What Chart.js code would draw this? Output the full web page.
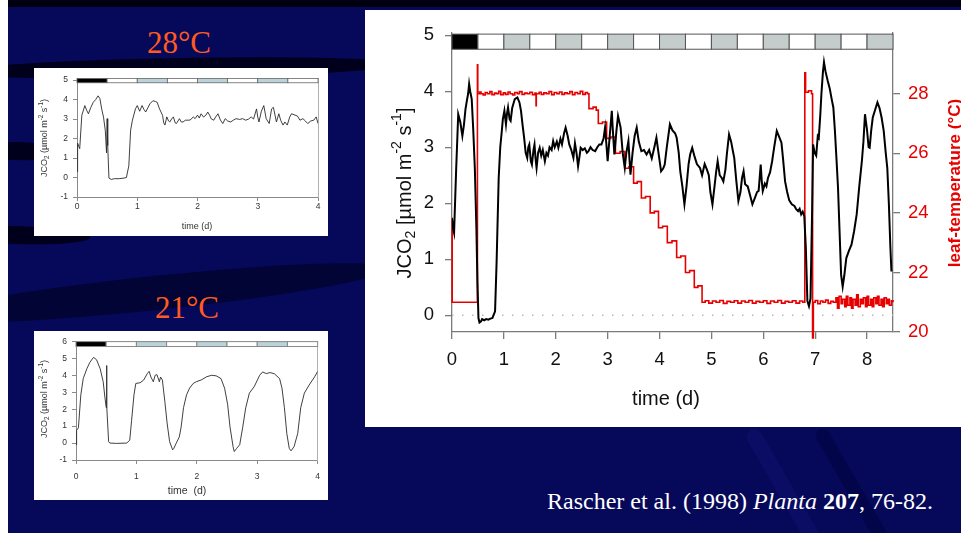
<!DOCTYPE html>
<html>
<head>
<meta charset="utf-8">
<script src="https://cdn.jsdelivr.net/npm/chart.js@4.4.1/dist/chart.umd.min.js"></script>
<style>
  html, body { margin: 0; padding: 0; }
  body {
    width: 961px; height: 533px; overflow: hidden; position: relative;
    background: #06085a;
    font-family: "Liberation Sans", Arial, sans-serif;
  }
  .streak { position: absolute; background: #00001c; border-radius: 50%; }
  .panel { position: absolute; background: #fff; }
  .panel canvas { display: block; }
  .temp {
    position: absolute; color: #ff5a1f; white-space: nowrap;
    font-family: "Liberation Serif", "Times New Roman", serif; font-size: 31px;
    transform: translate(-50%, -50%);
  }
  .cite {
    position: absolute; left: 547px; top: 488px; color: #fff; white-space: nowrap;
    font-family: "Liberation Serif", "Times New Roman", serif; font-size: 24px;
  }
</style>
</head>
<body>
<!-- slide decoration -->
<div style="position:absolute;left:0;top:0;width:961px;height:7px;background:#000010"></div>
<div class="streak" style="left:-40px;top:58px;width:440px;height:20px;transform:rotate(-1deg)"></div>
<div class="streak" style="left:-60px;top:142px;width:150px;height:18px;transform:rotate(2deg)"></div>
<div class="streak" style="left:-60px;top:226px;width:150px;height:18px;transform:rotate(2deg)"></div>
<div class="streak" style="left:-80px;top:276px;width:470px;height:34px;transform:rotate(-6deg);background:#020436"></div>
<div class="streak" style="left:780px;top:420px;width:16px;height:150px;transform:rotate(-30deg);background:#0a0d63;border-radius:8px"></div>
<div class="streak" style="left:850px;top:420px;width:14px;height:150px;transform:rotate(-30deg);background:#03054a;border-radius:7px"></div>
<div style="position:absolute;left:0;top:0;width:8px;height:533px;background:#fff"></div>

<div class="temp" style="left:179px;top:43px">28°C</div>
<div class="temp" style="left:187px;top:308px">21°C</div>

<div class="panel" style="left:34px;top:68px;width:294px;height:168px">
  <canvas id="chart28" width="294" height="168"></canvas>
</div>
<div class="panel" style="left:34px;top:331px;width:294px;height:169px">
  <canvas id="chart21" width="294" height="169"></canvas>
</div>
<div class="panel" style="left:365px;top:10px;width:596px;height:417px">
  <canvas id="bigChart" width="596" height="417"></canvas>
</div>

<div class="cite">Rascher et al. (1998) <i>Planta</i> <b>207</b>, 76-82.</div>

<script>
// ---- data: big chart (time in days) ----
const bigTime = [0, 0.02, 0.04, 0.08, 0.12, 0.16, 0.2, 0.23, 0.26, 0.29, 0.31, 0.33, 0.35, 0.38, 0.41, 0.44, 0.47, 0.49,
  0.51, 0.53, 0.56, 0.58, 0.62, 0.66, 0.7, 0.74, 0.78, 0.83, 0.86, 0.9, 0.93, 0.96, 0.98, 1.01, 1.04, 1.06, 1.08, 1.11,
  1.13, 1.16, 1.21, 1.26, 1.3, 1.33, 1.36, 1.39, 1.42, 1.45, 1.47, 1.49, 1.52, 1.54, 1.57, 1.59, 1.61, 1.63, 1.66, 1.69,
  1.72, 1.75, 1.79, 1.82, 1.85, 1.88, 1.92, 1.95, 1.98, 2.02, 2.05, 2.09, 2.12, 2.16, 2.19, 2.23, 2.26, 2.3, 2.34, 2.37,
  2.4, 2.43, 2.46, 2.48, 2.52, 2.56, 2.6, 2.63, 2.67, 2.71, 2.76, 2.8, 2.84, 2.88, 2.92, 2.95, 2.98, 3.0, 3.04, 3.08,
  3.1, 3.13, 3.17, 3.2, 3.25, 3.29, 3.33, 3.36, 3.4, 3.42, 3.44, 3.48, 3.52, 3.56, 3.6, 3.65, 3.7, 3.75, 3.8, 3.85, 3.9,
  3.94, 3.98, 4.03, 4.07, 4.1, 4.14, 4.2, 4.25, 4.3, 4.33, 4.37, 4.4, 4.44, 4.48, 4.52, 4.56, 4.59, 4.63, 4.67, 4.72,
  4.78, 4.82, 4.87, 4.91, 4.95, 4.98, 5.02, 5.06, 5.09, 5.12, 5.16, 5.2, 5.23, 5.27, 5.3, 5.34, 5.38, 5.41, 5.44, 5.48,
  5.52, 5.56, 5.59, 5.62, 5.65, 5.7, 5.74, 5.79, 5.84, 5.88, 5.91, 5.93, 5.95, 5.97, 5.99, 6.03, 6.06, 6.09, 6.13, 6.17,
  6.21, 6.26, 6.3, 6.35, 6.38, 6.42, 6.46, 6.5, 6.55, 6.6, 6.63, 6.67, 6.7, 6.73, 6.76, 6.79, 6.82, 6.85, 6.88, 6.91,
  6.94, 6.96, 6.99, 7.02, 7.05, 7.07, 7.1, 7.12, 7.15, 7.17, 7.2, 7.24, 7.28, 7.32, 7.35, 7.38, 7.41, 7.44, 7.47, 7.5,
  7.53, 7.56, 7.6, 7.65, 7.7, 7.75, 7.8, 7.85, 7.9, 7.93, 7.96, 8.0, 8.03, 8.05, 8.08, 8.11, 8.15, 8.2, 8.24, 8.28, 8.32,
  8.36, 8.39, 8.42, 8.45, 8.47];
const bigJco2 = [1.74, 1.55, 1.47, 2.6, 3.59, 3.45, 3.2, 3.4, 3.68, 3.85, 3.95, 4.13, 4.0, 3.86, 3.3, 2.63, 1.56, 0.6,
  -0.05, -0.13, -0.11, -0.07, -0.09, -0.07, -0.08, -0.06, -0.05, 0.07, 0.96, 2.45, 3.0, 3.29, 3.5, 3.65, 3.41, 3.6, 3.71, 3.5,
  3.47, 3.7, 3.86, 3.89, 3.8, 3.65, 3.4, 3.17, 2.9, 2.81, 3.0, 3.05, 2.75, 2.69, 2.95, 3.05, 2.8, 2.63, 2.9, 2.99,
  2.85, 2.95, 2.75, 2.9, 2.85, 3.0, 2.95, 3.11, 3.0, 3.1, 2.99, 3.15, 3.05, 3.25, 3.35, 3.2, 3.05, 2.95, 2.81, 3.07,
  2.9, 2.66, 2.85, 2.99, 2.95, 2.98, 2.9, 2.93, 3.0, 2.95, 2.93, 3.0, 3.05, 3.05, 3.15, 3.35, 3.0, 2.75, 3.2, 3.65,
  3.3, 2.87, 3.3, 3.56, 3.35, 2.9, 2.63, 2.9, 3.11, 2.8, 2.51, 2.9, 3.2, 3.35, 3.1, 2.93, 2.95, 2.87, 2.95, 2.8, 3.0,
  3.17, 2.9, 2.57, 2.62, 2.69, 3.0, 3.41, 3.3, 3.25, 3.17, 2.9, 2.57, 2.3, 1.98, 2.3, 2.7, 2.87, 2.99, 2.85, 2.7,
  2.63, 2.5, 2.7, 2.61, 2.5, 2.2, 1.98, 2.3, 2.55, 2.75, 2.5, 2.45, 2.39, 2.6, 2.9, 3.23, 3.1, 2.95, 2.81, 2.4,
  2.04, 2.2, 2.45, 2.57, 2.34, 2.3, 2.16, 1.98, 2.1, 2.2, 2.22, 2.45, 2.69, 2.4, 2.22, 2.35, 2.3, 2.45, 2.55, 2.75,
  3.0, 3.29, 3.2, 3.08, 2.8, 2.39, 2.2, 2.05, 1.98, 1.95, 1.9, 1.86, 1.9, 1.8, 1.85, 1.77, 1.2, 0.25, 0.16, 0.3,
  1.8, 3.05, 2.9, 2.85, 3.2, 3.17, 3.6, 3.95, 4.35, 4.52, 4.35, 4.19, 4.05, 3.85, 3.71, 3.3, 2.8, 2.28, 1.5, 0.72,
  0.51, 0.7, 1.02, 1.15, 1.26, 1.5, 1.8, 2.3, 2.75, 3.1, 3.59, 3.3, 3.0, 2.99, 3.3, 3.53, 3.65, 3.8, 3.7, 3.53, 3.3,
  2.9, 2.63, 2.0, 1.2, 0.78];

// leaf temperature (°C); each value is held from its time point until the next one
const tempTime = [0, 0.004, 0.49, 0.497, 0.53, 0.56, 0.6, 0.64, 0.68, 0.73, 0.77, 0.82, 0.86, 0.9, 0.94, 0.99, 1.03,
  1.08, 1.12, 1.17, 1.21, 1.26, 1.3, 1.35, 1.4, 1.45, 1.5, 1.55, 1.6, 1.62, 1.625, 1.68, 1.72, 1.77, 1.82, 1.87, 1.92,
  1.97, 2.02, 2.07, 2.12, 2.17, 2.22, 2.27, 2.32, 2.37, 2.42, 2.47, 2.52, 2.57, 2.61,
  2.64, 2.72, 2.78, 2.82, 2.9, 2.98, 3.06, 3.15, 3.24, 3.33, 3.41, 3.5, 3.57, 3.65, 3.73, 3.82, 3.9, 3.98, 4.06,
  4.15, 4.24, 4.33, 4.41, 4.5, 4.58, 4.67, 4.74, 4.82,
  4.88, 4.95, 5.02, 5.09, 5.16, 5.23, 5.3, 5.37, 5.44, 5.51, 5.58, 5.65, 5.72, 5.79, 5.86, 5.93, 6.0, 6.07, 6.14, 6.21,
  6.28, 6.35, 6.42, 6.49, 6.56, 6.63, 6.7, 6.76, 6.8, 6.815, 6.87, 6.93, 6.95, 6.965,
  7.0, 7.05, 7.1, 7.15, 7.2, 7.25, 7.3, 7.35, 7.4, 7.43, 7.46, 7.5, 7.53, 7.57, 7.6, 7.63, 7.67, 7.7, 7.73, 7.77, 7.8,
  7.83, 7.87, 7.9, 7.93, 7.97, 8.0, 8.03, 8.07, 8.1, 8.13, 8.17, 8.2, 8.23, 8.27, 8.3, 8.33, 8.37, 8.4, 8.43, 8.47, 8.5];
const tempVal = [23.8, 21.0, 28.97, 28.0, 28.06, 28.0, 27.96, 28.04, 28.0, 28.07, 27.97, 28.02, 28.0, 28.08, 27.97, 28.03, 27.98,
  28.06, 28.0, 27.96, 28.04, 28.0, 28.07, 27.98, 28.02, 28.0, 28.05, 27.97, 28.02, 27.6, 28.0, 28.05, 27.98, 28.03, 28.0, 28.07, 27.97,
  28.04, 28.0, 28.06, 27.98, 28.03, 28.0, 28.07, 27.97, 28.04, 28.0, 28.08, 27.98, 28.04, 28.0,
  27.5, 27.55, 27.45, 27.0, 27.05, 26.5, 26.55, 26.0, 26.06, 25.5, 25.55, 25.0, 25.05, 24.5, 24.55, 24.0, 24.05, 23.5, 23.55,
  23.0, 23.06, 22.5, 22.55, 22.0, 22.06, 21.5, 21.55, 21.0,
  21.05, 20.97, 21.04, 21.0, 21.06, 20.96, 21.03, 21.0, 21.05, 20.97, 21.04, 21.0, 21.06, 20.97, 21.03, 21.0, 21.05, 20.96, 21.04, 21.0,
  21.06, 20.97, 21.03, 21.0, 21.05, 20.97, 21.04, 21.0, 28.7, 28.05, 28.1, 28.0, 19.8, 21.0,
  21.06, 20.95, 21.04, 21.0, 21.07, 20.96, 21.03, 21.0, 21.15, 20.8, 21.2, 20.95, 21.1, 20.85, 21.2, 20.9, 21.15, 20.8, 21.1, 20.9, 21.25,
  20.85, 21.1, 20.95, 21.15, 20.85, 21.2, 20.9, 21.1, 20.85, 21.15, 20.95, 21.2, 20.9, 21.1, 20.85, 21.15, 20.95, 21.1, 20.9, 21.05, 21.0];

const bigXTicks = [0, 1, 2, 3, 4, 5, 6, 7, 8];
const bigYTicks = [0, 1, 2, 3, 4, 5];
const tempTicks = [20, 22, 24, 26, 28];

// light regime strip: half-day segments (k = dark, w = white, g = grey)
const bigStripStart = [0, 0.5, 1, 1.5, 2, 2.5, 3, 3.5, 4, 4.5, 5, 5.5, 6, 6.5, 7, 7.5, 8];
const bigStripKind = ['k', 'w', 'g', 'w', 'g', 'w', 'g', 'w', 'g', 'w', 'g', 'w', 'g', 'w', 'g', 'w', 'g'];

// ---- data: small charts ----
const time28 = [0, 0.01, 0.045, 0.08, 0.13, 0.16, 0.19, 0.23, 0.27, 0.31, 0.35, 0.38, 0.41, 0.44, 0.47, 0.49, 0.5, 0.51,
  0.53, 0.57, 0.62, 0.7, 0.78, 0.82, 0.86, 0.89, 0.92, 0.97, 1.0, 1.04, 1.08, 1.11, 1.14, 1.18, 1.21, 1.26, 1.3, 1.33,
  1.37, 1.42, 1.44, 1.46, 1.49, 1.52, 1.54, 1.57, 1.6, 1.63, 1.65, 1.7, 1.73, 1.76, 1.8, 1.84, 1.88, 1.93, 1.96, 2.0,
  2.03, 2.06, 2.1, 2.14, 2.17, 2.2, 2.23, 2.27, 2.3, 2.34, 2.38, 2.42, 2.46, 2.5, 2.55, 2.6, 2.64, 2.7, 2.75, 2.8, 2.85,
  2.89, 2.93, 2.98, 3.0, 3.02, 3.06, 3.1, 3.14, 3.19, 3.23, 3.26, 3.31, 3.35, 3.38, 3.42, 3.45, 3.49, 3.53, 3.56, 3.62,
  3.66, 3.7, 3.75, 3.79, 3.83, 3.88, 3.93, 3.97, 4.0];
const jco2At28 = [0.3, 1.76, 1.48, 3.19, 3.69, 3.45, 3.27, 3.6, 3.86, 4.0, 4.19, 4.05, 3.51, 3.1, 2.4, 1.26, 3.02, 1.64,
  -0.03, -0.1, -0.06, -0.06, -0.03, 0.0, 0.6, 2.43, 2.94, 3.52, 3.69, 3.4, 3.69, 3.5, 3.36, 3.6, 3.78, 3.94, 3.9, 3.86,
  3.52, 3.19, 2.8, 2.69, 3.11, 2.9, 2.85, 3.0, 3.11, 2.8, 2.77, 3.02, 2.85, 2.85, 2.94, 2.94, 2.95, 3.11, 3.02, 3.2,
  3.05, 3.27, 3.1, 3.2, 3.36, 3.2, 3.0, 2.94, 3.1, 3.27, 2.95, 2.77, 3.02, 2.9, 2.85, 2.95, 3.02, 2.98, 3.02, 2.94, 3.0,
  3.11, 3.0, 3.52, 3.1, 2.85, 3.4, 3.69, 3.02, 2.77, 3.52, 3.6, 2.85, 3.27, 2.94, 2.69, 2.85, 2.69, 3.1, 3.27, 3.2,
  3.15, 2.94, 3.02, 2.9, 2.77, 2.9, 2.94, 3.11, 2.77];

const time21 = [0, 0.01, 0.04, 0.08, 0.12, 0.18, 0.23, 0.29, 0.34, 0.4, 0.45, 0.48, 0.5, 0.505, 0.512, 0.54, 0.56, 0.67,
  0.84, 0.89, 0.92, 0.96, 0.99, 1.06, 1.12, 1.18, 1.21, 1.24, 1.28, 1.31, 1.34, 1.38, 1.4, 1.43, 1.47, 1.51, 1.55, 1.6,
  1.62, 1.66, 1.71, 1.74, 1.78, 1.83, 1.88, 1.94, 1.99, 2.07, 2.16, 2.24, 2.32, 2.4, 2.46, 2.51, 2.55, 2.6, 2.62, 2.66,
  2.71, 2.76, 2.81, 2.87, 2.95, 3.04, 3.09, 3.15, 3.21, 3.28, 3.37, 3.41, 3.45, 3.49, 3.53, 3.56, 3.61, 3.67, 3.72,
  3.78, 3.86, 3.95, 4.0];
const jco2At21 = [-0.1, 0.75, 0.9, 2.85, 3.81, 4.39, 4.77, 5.06, 4.92, 4.39, 3.62, 2.66, 2.09, 4.58, 2.2, 0.08, 0.0, -0.02,
  0.0, 0.17, 1.32, 2.85, 3.52, 3.56, 3.72, 4.1, 4.23, 3.9, 3.62, 4.0, 4.04, 3.62, 3.9, 3.72, 2.47, 1.13, 0.08, -0.4,
  -0.31, 0.0, 0.36, 0.94, 2.09, 2.85, 3.24, 3.52, 3.62, 3.72, 3.91, 4.0, 3.97, 3.81, 3.24, 2.28, 0.94, -0.21, -0.5, -0.31,
  -0.1, 0.94, 2.09, 2.95, 3.33, 4.0, 4.2, 4.1, 4.16, 4.1, 3.81, 3.24, 2.09, 0.56, -0.31, -0.46, -0.21, 0.56, 2.09,
  2.95, 3.43, 3.91, 4.23];

const smallXTicks = [0, 1, 2, 3, 4];
const yTicks28 = [-1, 0, 1, 2, 3, 4, 5];
const yTicks21 = [-1, 0, 1, 2, 3, 4, 5, 6];
const smallStripStart = [0, 0.5, 1, 1.5, 2, 2.5, 3, 3.5];
const smallStripKind = ['k', 'w', 'b', 'w', 'b', 'w', 'b', 'w'];

// ---- helpers ----
const FONT = '"Liberation Sans", Arial, sans-serif';
Chart.defaults.font.family = FONT;

function xy(ts, vs) { return ts.map((t, i) => ({ x: t, y: vs[i] })); }
function fixedTicks(list) { return scale => { scale.ticks = list.map(v => ({ value: v })); }; }

const stripColors = { k: '#000000', w: '#ffffff', g: '#c4cccc', b: '#bad2d8' };
const strips = {
  big: { starts: bigStripStart, kinds: bigStripKind, step: 0.5, top: 5.02, bottom: 4.75, line: '#555', lw: 1 },
  s28: { starts: smallStripStart, kinds: smallStripKind, step: 0.5, top: 5.08, bottom: 4.86, line: '#666', lw: 0.8 },
  s21: { starts: smallStripStart, kinds: smallStripKind, step: 0.5, top: 5.99, bottom: 5.7, line: '#888', lw: 1 }
};

const jLabel = (open, close) => [['JCO', ''], ['2', 'sub'], [' ' + open + 'µmol m', ''], ['-2', 'sup'], [' s', ''], ['-1', 'sup'], [close, '']];
const texts = {
  big: [
    { parts: jLabel('[', ']'), x: 40, y: 183, size: 20, angle: -Math.PI / 2, color: '#111' },
    { parts: [['leaf-temperature (°C)', '']], x: 590, y: 173, size: 17, weight: 'bold', angle: -Math.PI / 2, color: '#e60000' },
    { parts: [['time (d)', '']], x: 301, y: 389, size: 20, angle: 0, color: '#111' }
  ],
  s28: [
    { parts: jLabel('(', ')'), x: 11, y: 70, size: 9, angle: -Math.PI / 2, color: '#333' },
    { parts: [['time (d)', '']], x: 163, y: 159, size: 9, angle: 0, color: '#333' }
  ],
  s21: [
    { parts: jLabel('(', ')'), x: 11, y: 68, size: 9, angle: -Math.PI / 2, color: '#333' },
    { parts: [['time  (d)', '']], x: 153, y: 160, size: 10.5, angle: 0, color: '#333' }
  ]
};

function drawRich(ctx, it) {
  ctx.save();
  ctx.translate(it.x, it.y);
  ctx.rotate(it.angle);
  const fontOf = sz => (it.weight || 'normal') + ' ' + sz + 'px ' + FONT;
  let total = 0;
  const pieces = it.parts.map(p => {
    const sz = p[1] ? it.size * 0.7 : it.size;
    ctx.font = fontOf(sz);
    const w = ctx.measureText(p[0]).width;
    total += w;
    return { txt: p[0], sz: sz, w: w, dy: p[1] === 'sub' ? it.size * 0.3 : p[1] === 'sup' ? -it.size * 0.38 : 0 };
  });
  let x = -total / 2;
  ctx.fillStyle = it.color;
  ctx.textBaseline = 'middle';
  ctx.textAlign = 'left';
  pieces.forEach(p => { ctx.font = fontOf(p.sz); ctx.fillText(p.txt, x, p.dy); x += p.w; });
  ctx.restore();
}

// strip of light/dark periods and axis titles
Chart.register({
  id: 'decor',
  afterDraw(chart, args, opts) {
    const key = opts.key;
    const ctx = chart.ctx, xs = chart.scales.x, ys = chart.scales.y;
    const s = strips[key];
    const yTop = ys.getPixelForValue(s.top), yBot = ys.getPixelForValue(s.bottom);
    ctx.save();
    ctx.lineWidth = s.lw;
    ctx.strokeStyle = s.line;
    s.starts.forEach((st, i) => {
      const x0 = xs.getPixelForValue(st), x1 = xs.getPixelForValue(st + s.step);
      ctx.fillStyle = stripColors[s.kinds[i]];
      ctx.fillRect(x0, yTop, x1 - x0, yBot - yTop);
      ctx.strokeRect(x0, yTop, x1 - x0, yBot - yTop);
    });
    ctx.restore();
    texts[key].forEach(it => drawRich(ctx, it));
  }
});

// ---- big chart ----
new Chart(document.getElementById('bigChart'), {
  type: 'line',
  data: {
    datasets: [
      { data: xy(bigTime, bigJco2), yAxisID: 'y', borderColor: '#000', borderWidth: 2, pointRadius: 0, tension: 0, order: 1 },
      { data: xy(tempTime, tempVal), yAxisID: 'yT', borderColor: '#e60000', borderWidth: 1.6, pointRadius: 0,
        stepped: 'before', clip: false, order: 2 },
      { data: [{ x: 0, y: 0 }, { x: 8.5, y: 0 }], yAxisID: 'y', borderColor: '#b8b8b8', borderWidth: 1.5,
        borderDash: [1.5, 8.5], pointRadius: 0, order: 3 }
    ]
  },
  options: {
    responsive: false, animation: false, events: [],
    layout: { padding: { top: 23 } },
    plugins: { legend: { display: false }, tooltip: { enabled: false }, decor: { key: 'big' } },
    scales: {
      x: {
        type: 'linear', min: 0, max: 8.5,
        afterFit: s => { s.height = 95; }, afterBuildTicks: fixedTicks(bigXTicks),
        grid: { drawOnChartArea: false, tickLength: 7, color: '#7a7a7a', lineWidth: 1.3 },
        border: { color: '#7a7a7a', width: 1.3 },
        ticks: { font: { size: 18.5 }, color: '#111', padding: 10, maxRotation: 0 }
      },
      y: {
        position: 'left', min: -0.3, max: 5.04,
        afterFit: s => { s.width = 87; }, afterBuildTicks: fixedTicks(bigYTicks),
        grid: { drawOnChartArea: false, tickLength: 7, color: '#7a7a7a', lineWidth: 1.3 },
        border: { color: '#7a7a7a', width: 1.3 },
        ticks: { font: { size: 18.5 }, color: '#111', padding: 11 }
      },
      yT: {
        position: 'right', min: 20, max: 30.04,
        afterFit: s => { s.width = 68; }, afterBuildTicks: fixedTicks(tempTicks),
        grid: { drawOnChartArea: false, tickLength: 7, color: '#7a7a7a', lineWidth: 1.3 },
        border: { color: '#7a7a7a', width: 1.3 },
        ticks: { font: { size: 18.5 }, color: '#e60000', padding: 8 }
      }
    }
  }
});

// ---- small charts ----
function smallChart(id, key, ts, vs, yMax, yTicks, leftW, bottomH, xPad) {
  return new Chart(document.getElementById(id), {
    type: 'line',
    data: { datasets: [{ data: xy(ts, vs), borderColor: '#2a2a2a', borderWidth: 0.9, pointRadius: 0, tension: 0 }] },
    options: {
      responsive: false, animation: false, events: [],
      layout: { padding: { top: 7 } },
      plugins: { legend: { display: false }, tooltip: { enabled: false }, decor: { key: key } },
      scales: {
        x: {
          type: 'linear', min: 0, max: 4,
          afterFit: s => { s.height = bottomH; }, afterBuildTicks: fixedTicks(smallXTicks),
          grid: { drawOnChartArea: false, tickLength: 4, color: '#8a8a8a' },
          border: { color: '#8a8a8a' },
          ticks: { font: { size: 8.5 }, color: '#333', padding: xPad, maxRotation: 0 }
        },
        y: {
          position: 'left', min: -1, max: yMax,
          afterFit: s => { s.width = leftW; }, afterBuildTicks: fixedTicks(yTicks),
          grid: { drawOnChartArea: false, tickLength: 4, color: '#8a8a8a' },
          border: { color: '#8a8a8a' },
          ticks: { font: { size: 8.5 }, color: '#333', padding: 5 }
        },
        yR: {
          position: 'right', min: -1, max: yMax,
          afterFit: s => { s.width = 10; },
          grid: { display: false },
          border: { color: '#b0b0b0' },
          ticks: { display: false }
        }
      }
    }
  });
}

smallChart('chart28', 's28', time28, jco2At28, 5.1, yTicks28, 43, 39, 1);
smallChart('chart21', 's21', time21, jco2At21, 6.02, yTicks21, 42, 40, 8);
</script>
</body>
</html>
